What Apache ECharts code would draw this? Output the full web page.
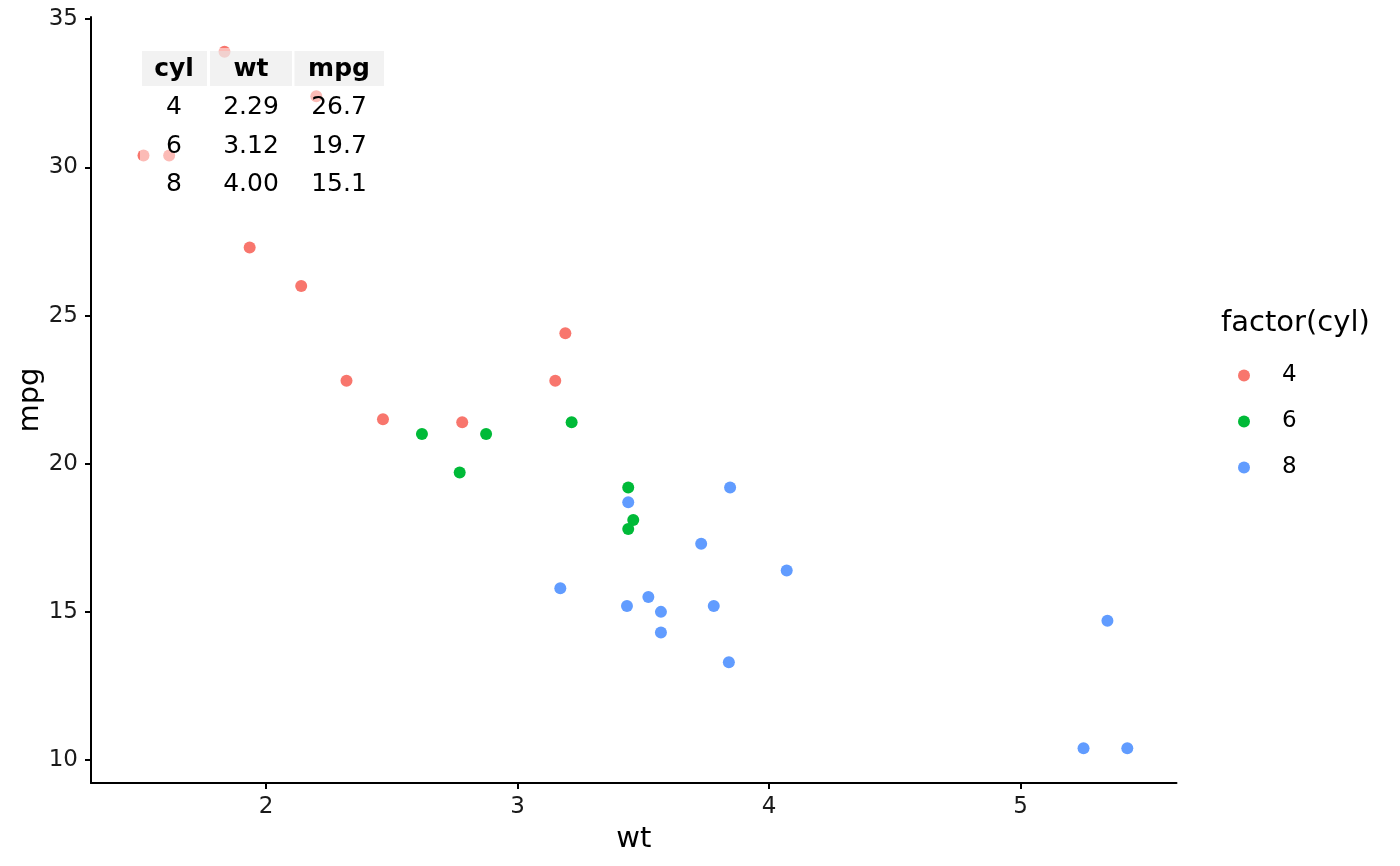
<!DOCTYPE html>
<html>
<head>
<meta charset="utf-8">
<script src="https://cdn.jsdelivr.net/npm/echarts@6/dist/echarts.min.js"></script>
<style>html,body{margin:0;padding:0;background:#fff}#c{width:1400px;height:866px}</style>
</head>
<body>
<div id="c"></div>
<script>
// mtcars: wt / mpg by cylinder group
const wt4  = [2.320, 3.190, 3.150, 2.200, 1.615, 1.835, 2.465, 1.935, 2.140, 1.513, 2.780];
const mpg4 = [22.8, 24.4, 22.8, 32.4, 30.4, 33.9, 21.5, 27.3, 26.0, 30.4, 21.4];
const wt6  = [2.620, 2.875, 3.215, 3.460, 3.440, 3.440, 2.770];
const mpg6 = [21.0, 21.0, 21.4, 18.1, 19.2, 17.8, 19.7];
const wt8  = [3.440, 3.570, 4.070, 3.730, 3.780, 5.250, 5.424, 5.345, 3.520, 3.435, 3.840, 3.845, 3.170, 3.570];
const mpg8 = [18.7, 14.3, 16.4, 17.3, 15.2, 10.4, 10.4, 14.7, 15.5, 15.2, 13.3, 19.2, 15.8, 15.0];
const groupNames = ['4', '6', '8'];
const xTicks = [2, 3, 4, 5];
const yTicks = [10, 15, 20, 25, 30, 35];
// summary table
const tableHeader = ['cyl', 'wt', 'mpg'];
const tableCyl = ['4', '6', '8'];
const tableWt  = ['2.29', '3.12', '4.00'];
const tableMpg = ['26.7', '19.7', '15.1'];

const colors = ['#F8766D', '#00BA38', '#619CFF'];
const FONT = 'DejaVu Sans';
const pairs = (xs, ys) => xs.map((x, i) => [x, ys[i]]);
const seriesData = [pairs(wt4, mpg4), pairs(wt6, mpg6), pairs(wt8, mpg8)];

// table graphics
const colCenters = [174, 251, 339];
const headerCells = [[142, 207], [210, 292], [294.5, 384]];
const rowCenters = [107.5, 146, 184.5];
const graphics = [];
graphics.push({type: 'rect', z: 100, shape: {x: 140, y: 48, width: 246, height: 156},
  style: {fill: 'rgba(255,255,255,0.5)'}});
headerCells.forEach((c, i) => {
  graphics.push({type: 'rect', z: 101, shape: {x: c[0], y: 51, width: c[1] - c[0], height: 35},
    style: {fill: 'rgba(229,229,229,0.5)'}});
  graphics.push({type: 'text', z: 102, x: colCenters[i], y: 69,
    style: {text: tableHeader[i], font: 'bold 25px "DejaVu Sans"', fill: '#000', align: 'center', verticalAlign: 'middle'}});
});
const cols = [tableCyl, tableWt, tableMpg];
cols.forEach((col, ci) => {
  col.forEach((v, ri) => {
    graphics.push({type: 'text', z: 102, x: colCenters[ci], y: rowCenters[ri],
      style: {text: v, font: '25px "DejaVu Sans"', fill: '#000', align: 'center', verticalAlign: 'middle'}});
  });
});
graphics.push({type: 'text', z: 102, x: 1221, y: 323,
  style: {text: 'factor(cyl)', font: '29px "DejaVu Sans"', fill: '#000', align: 'left', verticalAlign: 'middle'}});

const chart = echarts.init(document.getElementById('c'), null, {renderer: 'canvas'});
chart.setOption({
  animation: false,
  backgroundColor: '#fff',
  textStyle: {fontFamily: FONT},
  grid: {left: 91, right: 223.5, top: 17, bottom: 83, containLabel: false},
  xAxis: {
    type: 'value', min: 1.3043, max: 5.6196,
    name: 'wt', nameLocation: 'middle', nameGap: 42,
    nameTextStyle: {fontSize: 29, color: '#000', fontFamily: FONT},
    splitLine: {show: false},
    axisLine: {show: true, onZero: false, lineStyle: {color: '#000', width: 2}},
    axisTick: {show: true, length: 6, lineStyle: {color: '#000', width: 2}, customValues: xTicks},
    axisLabel: {fontSize: 23, color: '#1a1a1a', margin: 13, fontFamily: FONT, customValues: xTicks}
  },
  yAxis: {
    type: 'value', min: 9.225, max: 35.075,
    name: 'mpg', nameLocation: 'middle', nameGap: 46, nameRotate: 90, nameMoveOverlap: false,
    nameTextStyle: {fontSize: 29, color: '#000', fontFamily: FONT},
    splitLine: {show: false},
    axisLine: {show: true, onZero: false, lineStyle: {color: '#000', width: 2}},
    axisTick: {show: true, length: 6, lineStyle: {color: '#000', width: 2}, customValues: yTicks},
    axisLabel: {fontSize: 23, color: '#1a1a1a', margin: 13, fontFamily: FONT, customValues: yTicks}
  },
  legend: {
    orient: 'vertical', left: 1233, top: 359,
    itemWidth: 12, itemHeight: 12, itemGap: 23,
    icon: 'circle',
    data: groupNames,
    textStyle: {fontSize: 23, color: '#000', fontFamily: FONT, lineHeight: 20, padding: [0, 0, 0, 27]}
  },
  series: groupNames.map((n, i) => ({
    name: n, type: 'scatter', symbol: 'circle', symbolSize: 12,
    itemStyle: {color: colors[i], opacity: 1},
    data: seriesData[i]
  })),
  graphic: graphics
});
</script>
</body>
</html>
